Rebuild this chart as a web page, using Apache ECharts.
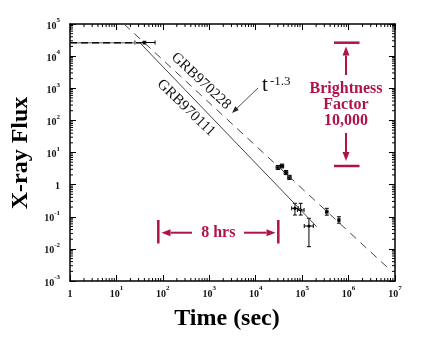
<!DOCTYPE html>
<html><head><meta charset="utf-8">
<script src="https://cdn.jsdelivr.net/npm/echarts@6/dist/echarts.min.js"></script>
<style>html,body{margin:0;padding:0;background:#fff}#c{width:440px;height:339px}</style>
</head><body><div id="c"></div>
<script>
// ---- data ----
const xTickExponents = [0,1,2,3,4,5,6,7];
const yTickExponents = [-3,-2,-1,0,1,2,3,4,5];
// flat prompt-emission level
const flatT = [1, 35];
const flatF = [2.6e4, 2.6e4];
// solid power-law decay (GRB970111 label side)
const solidT = [32, 2.06e5];
const solidF = [2.6e4, 0.049];
// dashed power-law decay t^-1.3 (GRB970228)
const dashedT = [14.55, 7.08e6];
const dashedF = [1e5, 2.54e-3];
// data points: t, F, tLow, tHigh, fLow, fHigh
const pointT    = [40,    3.02e4, 3.68e4, 4.49e4, 5.34e4, 3.4e5, 6.2e5, 7.0e4, 9.3e4, 1.4e5];
const pointF    = [2.65e4,3.41,   3.80,   2.38,   1.67,   0.143, 0.079, 0.183, 0.162, 0.0515];
const pointTLow = [25,    2.75e4, 3.4e4,  4.1e4,  4.9e4,  3.2e5, 5.9e5, 5.96e4,7.9e4, 1.11e5];
const pointTHigh= [68,    3.3e4,  4.0e4,  4.9e4,  5.8e4,  3.6e5, 6.5e5, 8.26e4,1.1e5, 1.74e5];
const pointFLow = [2.4e4, 2.95,   3.3,    2.05,   1.45,   0.112, 0.063, 0.113, 0.113, 0.0117];
const pointFHigh= [2.9e4, 3.95,   4.35,   2.75,   1.95,   0.183, 0.100, 0.262, 0.262, 0.0895];

const crimson = '#b0124c';
const serif = '"Liberation Serif", "DejaVu Serif", serif';

function zip(a,b){return a.map((v,i)=>[v,b[i]]);}
const supMap = {'-':'⁻','0':'⁰','1':'¹','2':'²','3':'³','4':'⁴','5':'⁵','6':'⁶','7':'⁷','8':'⁸','9':'⁹'};
function fmt(v){
  const e = Math.round(Math.log10(v));
  if (e === 0) return '{b|1}';
  return '{b|10}{s|' + String(e) + '}';
}
const labelRich = {
  b:{fontFamily:serif,fontWeight:'bold',fontSize:10,color:'#111',lineHeight:14,verticalAlign:'bottom'},
  s:{fontFamily:serif,fontWeight:'bold',fontSize:7,color:'#111',lineHeight:14,verticalAlign:'top'}
};

// minor ticks (2..9 per decade)
const minorX = [], minorY = [];
for (let d=0; d<7; d++) for (let k=2;k<=9;k++) minorX.push(k*Math.pow(10,d));
for (let d=-3; d<5; d++) for (let k=2;k<=9;k++) minorY.push(k*Math.pow(10,d));
const minorData = minorX.map(v=>[v,1,0]).concat(minorY.map(v=>[1,v,1]));

const pointsData = pointT.map((t,i)=>[t,pointF[i],pointTLow[i],pointTHigh[i],pointFLow[i],pointFHigh[i]]);

const chart = echarts.init(document.getElementById('c'), null, {renderer:'canvas'});
const axisCommon = {
  type:'log', logBase:10,
  axisLine:{show:true,lineStyle:{color:'#000',width:1.5}},
  axisTick:{show:true,inside:true,length:6,lineStyle:{color:'#000',width:1}},
  splitLine:{show:false},
  minorTick:{show:false}
};
chart.setOption({
  animation:false,
  grid:{left:70,top:24,width:325,height:257,containLabel:false},
  xAxis:[
    Object.assign({}, axisCommon, {min:1,max:1e7,splitNumber:7,position:'bottom',
      axisLabel:{show:true,margin:4,formatter:fmt,rich:labelRich}}),
    Object.assign({}, axisCommon, {min:1,max:1e7,splitNumber:7,position:'top',axisLabel:{show:false}})
  ],
  yAxis:[
    Object.assign({}, axisCommon, {min:1e-3,max:1e5,splitNumber:8,position:'left',
      axisLabel:{show:true,margin:10,formatter:fmt,rich:labelRich}}),
    Object.assign({}, axisCommon, {min:1e-3,max:1e5,splitNumber:8,position:'right',axisLabel:{show:false}})
  ],
  series:[
    {type:'line',data:zip(flatT,flatF),symbol:'none',lineStyle:{color:'#888',width:1.5},silent:true},
    {type:'line',data:zip(flatT,flatF),symbol:'none',lineStyle:{color:'#111',width:1.5,type:[7,4]},silent:true},
    {type:'line',data:zip(solidT,solidF),symbol:'none',lineStyle:{color:'#444',width:1},silent:true},
    {type:'line',data:zip(dashedT,dashedF),symbol:'none',lineStyle:{color:'#444',width:1,type:[8,6]},silent:true},
    {type:'custom',silent:true,data:minorData,renderItem:function(params,api){
      const cs = params.coordSys;
      const isY = api.value(2) === 1;
      const L = 3;
      if (!isY) {
        const px = api.coord([api.value(0),1])[0];
        return {type:'group',children:[
          {type:'line',shape:{x1:px,y1:cs.y+cs.height,x2:px,y2:cs.y+cs.height-L},style:{stroke:'#000',lineWidth:1}},
          {type:'line',shape:{x1:px,y1:cs.y,x2:px,y2:cs.y+L},style:{stroke:'#000',lineWidth:1}}
        ]};
      } else {
        const py = api.coord([1,api.value(1)])[1];
        return {type:'group',children:[
          {type:'line',shape:{x1:cs.x,y1:py,x2:cs.x+L,y2:py},style:{stroke:'#000',lineWidth:1}},
          {type:'line',shape:{x1:cs.x+cs.width,y1:py,x2:cs.x+cs.width-L,y2:py},style:{stroke:'#000',lineWidth:1}}
        ]};
      }
    }},
    {type:'custom',silent:true,data:pointsData,renderItem:function(params,api){
      const c = api.coord([api.value(0),api.value(1)]);
      const xl = api.coord([api.value(2),api.value(1)])[0];
      const xh = api.coord([api.value(3),api.value(1)])[0];
      const yl = api.coord([api.value(0),api.value(4)])[1];
      const yh = api.coord([api.value(0),api.value(5)])[1];
      const st = {stroke:'#000',lineWidth:1};
      const cap = 2;
      return {type:'group',children:[
        {type:'line',shape:{x1:c[0],y1:yl,x2:c[0],y2:yh},style:st},
        {type:'line',shape:{x1:c[0]-cap,y1:yl,x2:c[0]+cap,y2:yl},style:st},
        {type:'line',shape:{x1:c[0]-cap,y1:yh,x2:c[0]+cap,y2:yh},style:st},
        {type:'line',shape:{x1:xl,y1:c[1],x2:xh,y2:c[1]},style:st},
        {type:'line',shape:{x1:xl,y1:c[1]-cap,x2:xl,y2:c[1]+cap},style:st},
        {type:'line',shape:{x1:xh,y1:c[1]-cap,x2:xh,y2:c[1]+cap},style:st},
        {type:'circle',shape:{cx:c[0],cy:c[1],r:1.6},style:{fill:'#000'}}
      ]};
    }}
  ]
});

function arrow(x1,y1,x2,y2,color,w,headL,headW){
  const dx=x2-x1, dy=y2-y1, len=Math.hypot(dx,dy), ux=dx/len, uy=dy/len;
  const bx=x2-ux*headL, by=y2-uy*headL;
  const nx=-uy, ny=ux;
  return [
    {type:'line',shape:{x1:x1,y1:y1,x2:bx,y2:by},style:{stroke:color,lineWidth:w},silent:true},
    {type:'polygon',shape:{points:[[x2,y2],[bx+nx*headW/2,by+ny*headW/2],[bx-nx*headW/2,by-ny*headW/2]]},style:{fill:color},silent:true}
  ];
}
function txt(x,y,text,font,color,rot,align){
  return {type:'text',x:x,y:y,rotation:rot||0,silent:true,
    style:{text:text,font:font,fill:color,align:align||'center',verticalAlign:'middle'}};
}
const g = [];
g.push(txt(21,153,'X-ray Flux','bold 24px '+serif,'#000',Math.PI/2));
g.push(txt(227,319,'Time (sec)','bold 24px '+serif,'#000',0));
g.push(txt(201,81,'GRB970228','15px '+serif,'#111',-0.755));
g.push(txt(186,108,'GRB970111','15px '+serif,'#111',-0.77));
g.push({type:'text',x:262,y:96,silent:true,style:{text:'t',font:'21px '+serif,fill:'#111',align:'left',verticalAlign:'bottom'}});
g.push({type:'text',x:270,y:88,silent:true,style:{text:'-1.3',font:'13px '+serif,fill:'#111',align:'left',verticalAlign:'bottom'}});
arrow(258,88,232,113,'#222',0.8,7,5).forEach(e=>g.push(e));
// brightness factor
g.push(txt(346,89,'Brightness','bold 16px '+serif,crimson,0));
g.push(txt(346,105,'Factor','bold 16px '+serif,crimson,0));
g.push(txt(346,121,'10,000','bold 16px '+serif,crimson,0));
g.push({type:'line',shape:{x1:334,y1:42.7,x2:359.5,y2:42.7},style:{stroke:crimson,lineWidth:2.5},silent:true});
g.push({type:'line',shape:{x1:334,y1:166,x2:359.5,y2:166},style:{stroke:crimson,lineWidth:2.5},silent:true});
arrow(346,75,346,46.5,crimson,2,9,7).forEach(e=>g.push(e));
arrow(346,133,346,161,crimson,2,9,7).forEach(e=>g.push(e));
// 8 hrs
g.push({type:'line',shape:{x1:158.3,y1:220,x2:158.3,y2:243.5},style:{stroke:crimson,lineWidth:2.5},silent:true});
g.push({type:'line',shape:{x1:278.3,y1:220,x2:278.3,y2:243.5},style:{stroke:crimson,lineWidth:2.5},silent:true});
arrow(192,232.7,161.5,232.7,crimson,2,9,7).forEach(e=>g.push(e));
arrow(244,232.7,275.5,232.7,crimson,2,9,7).forEach(e=>g.push(e));
g.push(txt(218.3,232.7,'8 hrs','bold 16px '+serif,crimson,0));
chart.setOption({graphic:{elements:g}});
</script></body></html>
